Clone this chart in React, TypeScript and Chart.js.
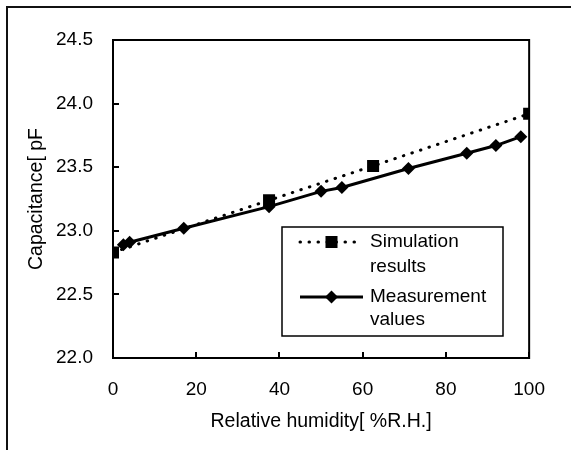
import React, { useEffect, useRef } from "react";
import { Chart, registerables } from "chart.js";

Chart.register(...registerables);

// ---- data ----
const simHumidity = [0, 37.5, 62.5, 100];
const simCapacitance = [22.83, 23.24, 23.51, 23.92];
const measHumidity = [2.5, 4, 17, 37.5, 50, 55, 71, 85, 92, 98];
const measCapacitance = [22.89, 22.91, 23.02, 23.19, 23.31, 23.34, 23.49, 23.61, 23.67, 23.74];
const xTickValues = [0, 20, 40, 60, 80, 100];
const yTickValues = [22.0, 22.5, 23.0, 23.5, 24.0, 24.5];
const seriesLabels = [
  ["Simulation", "results"],
  ["Measurement", "values"],
];
const xTitle = "Relative humidity[ %R.H.]";
const yTitle = "Capacitance[ pF";

const FONT = "'Liberation Sans', Arial, Helvetica, sans-serif";

const decorPlugin = {
  id: "decor",
  beforeDraw(chart: any) {
    const ctx = chart.ctx;
    ctx.save();
    ctx.fillStyle = "#fff";
    ctx.fillRect(0, 0, chart.width, chart.height);
    ctx.strokeStyle = "#111";
    ctx.lineWidth = 2;
    ctx.beginPath();
    ctx.moveTo(7, chart.height);
    ctx.lineTo(7, 7);
    ctx.lineTo(chart.width, 7);
    ctx.stroke();
    ctx.restore();
  },
  beforeDatasetsDraw(chart: any) {
    const { left, top, right, bottom } = chart.chartArea;
    const ctx = chart.ctx;
    ctx.save();
    ctx.strokeStyle = "#000";
    ctx.lineWidth = 2;
    ctx.strokeRect(left, top, right - left, bottom - top);
    ctx.restore();
  },
  afterDatasetsDraw(chart: any, _args: any, opts: any) {
    const ctx = chart.ctx;
    const [bl, bt, br, bb] = opts.box;
    ctx.save();
    ctx.fillStyle = "#fff";
    ctx.fillRect(bl, bt, br - bl, bb - bt);
    ctx.strokeStyle = "#000";
    ctx.lineWidth = 1.5;
    ctx.strokeRect(bl, bt, br - bl, bb - bt);
    chart.data.datasets.forEach((ds: any, i: number) => {
      const rows = opts.rows[i];
      const y = rows[0];
      const [x1, x2] = opts.sampleX;
      ctx.save();
      ctx.strokeStyle = ds.borderColor;
      ctx.lineWidth = ds.borderWidth;
      ctx.lineCap = ds.borderCapStyle || "butt";
      ctx.setLineDash(ds.borderDash || []);
      ctx.beginPath();
      ctx.moveTo(x1, y);
      ctx.lineTo(x2, y);
      ctx.stroke();
      ctx.restore();
      const cx = (x1 + x2) / 2;
      const r = ds.pointRadius;
      ctx.fillStyle = ds.backgroundColor;
      ctx.beginPath();
      if (ds.pointStyle === "rect") {
        const s = Math.SQRT1_2 * r;
        ctx.rect(cx - s, y - s, 2 * s, 2 * s);
      } else {
        ctx.moveTo(cx - r, y);
        ctx.lineTo(cx, y - r);
        ctx.lineTo(cx + r, y);
        ctx.lineTo(cx, y + r);
        ctx.closePath();
      }
      ctx.fill();
      ctx.fillStyle = "#000";
      ctx.font = `19px ${FONT}`;
      ctx.textAlign = "left";
      ctx.textBaseline = "middle";
      seriesLabels[i].forEach((t, k) => ctx.fillText(t, opts.textX, rows[k]));
    });
    ctx.restore();
  },
};

export default function App() {
  const ref = useRef<HTMLCanvasElement | null>(null);
  useEffect(() => {
    if (!ref.current) return;
    const chart = new Chart(ref.current, {
      type: "scatter",
      data: {
        datasets: [
          {
            label: seriesLabels[0].join(" "),
            data: simHumidity.map((x, i) => ({ x, y: simCapacitance[i] })),
            showLine: true,
            borderColor: "#000",
            backgroundColor: "#000",
            borderWidth: 3,
            borderDash: [0.5, 8.5],
            borderCapStyle: "round",
            pointStyle: "rect",
            pointRadius: 8.5,
            pointBorderWidth: 0,
            tension: 0,
          } as any,
          {
            label: seriesLabels[1].join(" "),
            data: measHumidity.map((x, i) => ({ x, y: measCapacitance[i] })),
            showLine: true,
            borderColor: "#000",
            backgroundColor: "#000",
            borderWidth: 3,
            borderDash: [],
            pointStyle: "rectRot",
            pointRadius: 6.5,
            pointBorderWidth: 0,
            tension: 0,
          } as any,
        ],
      },
      options: {
        responsive: false,
        animation: false,
        layout: { padding: { left: 0, top: 40, right: 41, bottom: 0 } },
        plugins: {
          legend: { display: false },
          tooltip: { enabled: false },
          decor: {
            box: [282, 227, 503, 336],
            sampleX: [300, 363],
            textX: 370,
            rows: [
              [242, 267],
              [297, 320],
            ],
          },
        } as any,
        scales: {
          x: {
            type: "linear",
            min: 0,
            max: 100,
            afterBuildTicks: (s: any) => {
              s.ticks = xTickValues.map((v) => ({ value: v }));
            },
            afterFit: (s: any) => {
              s.height = 92;
            },
            grid: {
              drawOnChartArea: false,
              drawTicks: true,
              tickLength: -6,
              color: "#000",
              lineWidth: 2,
            },
            border: { display: true, color: "#000", width: 2 },
            ticks: {
              padding: 26,
              color: "#000",
              font: { family: FONT, size: 19 },
              maxRotation: 0,
              callback: (v: any) => String(v),
            },
            title: {
              display: true,
              text: xTitle,
              color: "#000",
              font: { family: FONT, size: 19.5 },
              padding: { top: 0, bottom: 17 },
            },
          },
          y: {
            type: "linear",
            min: 22,
            max: 24.5,
            afterBuildTicks: (s: any) => {
              s.ticks = yTickValues.map((v) => ({ value: v }));
            },
            afterFit: (s: any) => {
              s.width = 113;
            },
            grid: {
              drawOnChartArea: false,
              drawTicks: true,
              tickLength: -6,
              color: "#000",
              lineWidth: 2,
            },
            border: { display: true, color: "#000", width: 2 },
            ticks: {
              padding: 26,
              color: "#000",
              font: { family: FONT, size: 19 },
              callback: (v: any) => Number(v).toFixed(1),
            },
            title: {
              display: true,
              text: yTitle,
              color: "#000",
              font: { family: FONT, size: 19.5 },
              padding: { top: 25, bottom: 0 },
            },
          },
        },
      } as any,
      plugins: [decorPlugin],
    });
    return () => chart.destroy();
  }, []);

  return (
    <div style={{ position: "fixed", left: 0, top: 0, width: 571, height: 450, background: "#fff" }}>
      <canvas ref={ref} width={571} height={450} style={{ display: "block", width: 571, height: 450 }} />
    </div>
  );
}
